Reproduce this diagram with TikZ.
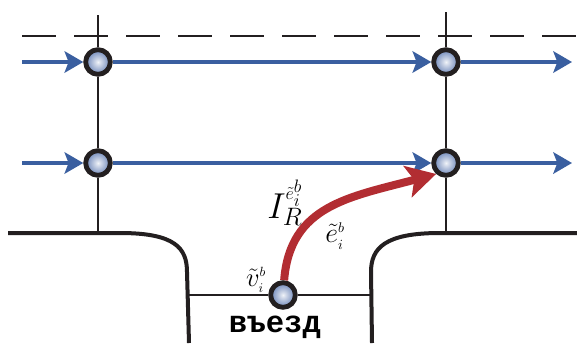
\RequirePackage{fix-cm}
\documentclass[tikz,border=0pt]{standalone}
\usepackage{fontspec}
\newfontfamily\entryfont{Liberation Mono}
\usetikzlibrary{
  arrows.meta,
  backgrounds}

\definecolor{flowblue}{RGB}{58,95,160}
\definecolor{turnred}{RGB}{178,45,50}
\definecolor{ballblue}{RGB}{82,112,172}
\definecolor{roadgray}{RGB}{35,31,32}

\pgfdeclareradialshading{junctball}{\pgfpoint{0bp}{0bp}}{%
  color(0bp)=(white!92!ballblue);
  color(5bp)=(white!75!ballblue);
  color(30bp)=(ballblue);
  color(50bp)=(ballblue)}

\tikzset{
  junction/.style={circle,draw=roadgray,line width=3.6pt,minimum size=18.5pt,
    inner sep=0pt,shading=junctball},
  flow/.style={line width=3pt,draw=flowblue,
    -{Stealth[length=14pt,width=16pt,inset=3pt]}},
  turn/.style={line width=6pt,draw=turnred,
    -{Stealth[length=22pt,width=24pt,inset=5pt]}},
  curb/.style={line width=3pt,draw=roadgray},
  lane/.style={line width=1.4pt,draw=roadgray},
  stopline/.style={line width=1.1pt,draw=roadgray},
  border/.style={line width=1.5pt,draw=roadgray,dash pattern=on 25.5pt off 13.5pt}
}

\begin{document}
\begin{tikzpicture}[x=0.75pt,y=-0.75pt]
  \useasboundingbox (0,0) rectangle (577,343);

  % Junctions
  \node[junction] (n11) at (98,62)  {};
  \node[junction] (n12) at (446,62) {};
  \node[junction] (n21) at (98,163) {};
  \node[junction] (n22) at (446,163) {};
  \node[junction] (ent) at (283,295) {};

  % Free ends
  \coordinate (in1)  at (22,62);
  \coordinate (out1) at (572,62);
  \coordinate (in2)  at (22,163);
  \coordinate (out2) at (572,163);
  \coordinate (lt) at (98,15);
  \coordinate (lb) at (98,233);
  \coordinate (rt) at (446,12);
  \coordinate (rb) at (446,233);
  \coordinate (dl) at (22,36);
  \coordinate (dr) at (577,36);
  \coordinate (sl) at (188,295);
  \coordinate (sr) at (371,295);

  \begin{scope}[on background layer]
    % Lane border
    \draw[border] (dl) -- (dr);

    % Crossing lines
    \draw[lane] (lt) -- (n11) -- (n21) -- (lb);
    \draw[lane] (rt) -- (n12) -- (n22) -- (rb);
    \draw[stopline] (sl) -- (ent) -- (sr);

    % Through flows
    \draw[flow] (in1) -- (n11);
    \draw[flow] (n11) -- (n12);
    \draw[flow] (n12) -- (out1);
    \draw[flow] (in2) -- (n21);
    \draw[flow] (n21) -- (n22);
    \draw[flow] (n22) -- (out2);

    % Turn from the entrance
    \draw[turn] (ent) .. controls (290,205) and (350,197) .. (n22.228);
  \end{scope}

  % Curbs
  \draw[curb]
    (8,233) -- (120,233)
    .. controls (175,233) and (187,248) .. (187,272) -- (189,343);
  \draw[curb]
    (577,233) -- (440,233)
    .. controls (385,233) and (371,248) .. (371,272) -- (372,343);

  % Labels
  \node[font=\fontsize{27}{30}\selectfont] (irlab) at (285,203)
    {$I_R^{\scriptscriptstyle\tilde{e}_i^b}$};
  \node[font=\fontsize{21}{24}\selectfont] (elab) at (335,236)
    {$\tilde{e}_{\scriptscriptstyle i}^{\scriptscriptstyle b}$};
  \node[font=\fontsize{20}{22}\selectfont] (vlab) at (256,280)
    {$\tilde{v}_{\scriptscriptstyle i}^{\scriptscriptstyle b}$};
  \node[font=\entryfont\bfseries\fontsize{23}{25}\selectfont] (entlab) at (275,327)
    {въезд};

\end{tikzpicture}
\end{document}
